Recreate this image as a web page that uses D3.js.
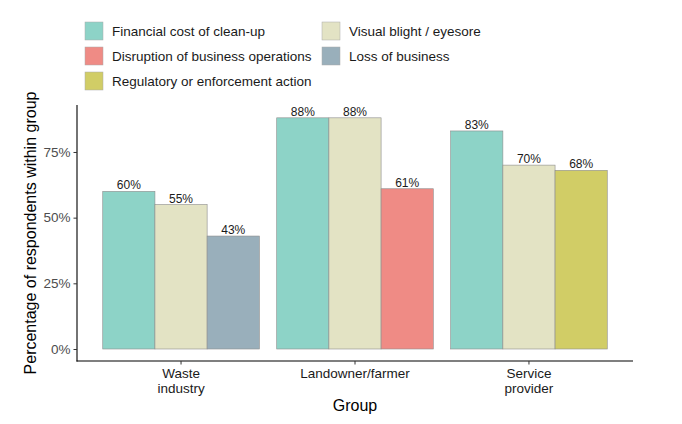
<!DOCTYPE html>
<html>
<head>
<meta charset="utf-8">
<script src="https://cdn.jsdelivr.net/npm/d3@7"></script>
<style>
  body { margin: 0; background: #fff; }
  svg { font-family: "Liberation Sans", Arial, sans-serif; }
</style>
</head>
<body>
<div id="chart"></div>
<script>
// data
const groups = ["Waste\nindustry", "Landowner/farmer", "Service\nprovider"]
const reasons = ["Financial cost of clean-up", "Visual blight / eyesore",
                 "Disruption of business operations", "Loss of business",
                 "Regulatory or enforcement action"]
const colors = ["#8dd3c7", "#e3e3c4", "#ef8b85", "#99afbb", "#d1cd66"]
const bar_reasons = [
    ["Financial cost of clean-up", "Visual blight / eyesore", "Loss of business"],
    ["Financial cost of clean-up", "Visual blight / eyesore", "Disruption of business operations"],
    ["Financial cost of clean-up", "Visual blight / eyesore", "Regulatory or enforcement action"]
]
const bar_values = [
    [60, 55, 43],
    [88, 88, 61],
    [83, 70, 68]
]
const y_ticks = [0, 25, 50, 75]

const width = 682, height = 424
const margin = {left: 77, right: 49, top: 105, bottom: 63}

const svg = d3.select("#chart").append("svg")
    .attr("width", width)
    .attr("height", height)

// build rows
const rows = []
groups.forEach((g, i) => {
    bar_reasons[i].forEach((r, j) => rows.push({group: g, reason: r, value: bar_values[i][j], idx: j}))
})

const x = d3.scaleBand()
    .domain(groups)
    .range([margin.left, width - margin.right])
    .paddingInner(0.1)
    .paddingOuter(0.148)
const xsub = d3.scaleBand()
    .domain([0, 1, 2])
    .range([0, x.bandwidth()])

const y = d3.scaleLinear()
    .domain([0, 100])
    .range([349, 349 - 262.7])

const color = d3.scaleOrdinal().domain(reasons).range(colors)

// bars
svg.selectAll("rect.bar")
    .data(rows)
    .join("rect")
        .attr("class", "bar")
        .attr("x", d => x(d.group) + xsub(d.idx))
        .attr("y", d => y(d.value))
        .attr("width", xsub.bandwidth())
        .attr("height", d => y(0) - y(d.value))
        .attr("fill", d => color(d.reason))
        .attr("stroke", "#8c8c8c")
        .attr("stroke-width", 0.6)

// value labels
svg.selectAll("text.lbl")
    .data(rows)
    .join("text")
        .attr("class", "lbl")
        .attr("x", d => x(d.group) + xsub(d.idx) + xsub.bandwidth() / 2)
        .attr("y", d => y(d.value) - 2)
        .attr("text-anchor", "middle")
        .style("font-size", "12px")
        .attr("fill", "#1a1a1a")
        .text(d => d.value + "%")

// y axis
const y_axis = svg.append("g")
    .attr("transform", `translate(${margin.left}, 0)`)
    .call(d3.axisLeft(y)
            .tickValues(y_ticks)
            .tickSize(3.5)
            .tickPadding(3)
            .tickFormat(d => d + "%"))
y_axis.attr("font-size", null).attr("font-family", null)
y_axis.select(".domain").attr("d", `M0,${margin.top}V${height - margin.bottom + 0.5}`)
    .attr("stroke", "#000").attr("stroke-width", 1.1)
y_axis.selectAll(".tick line").attr("stroke", "#333")
y_axis.selectAll(".tick text").style("font-size", "13.5px").attr("fill", "#4d4d4d")

// x axis
const x_axis = svg.append("g")
    .attr("transform", `translate(0, ${height - margin.bottom})`)
    .call(d3.axisBottom(x).tickSize(3.5).tickPadding(3))
x_axis.attr("font-size", null).attr("font-family", null)
x_axis.select(".domain").attr("d", `M${margin.left - 0.5},0H${width - margin.right}`)
    .attr("stroke", "#000").attr("stroke-width", 1.1)
x_axis.selectAll(".tick line").attr("stroke", "#333")
x_axis.selectAll(".tick text").remove()
x_axis.selectAll(".tick").each(function(d) {
    const t = d3.select(this).append("text")
        .attr("text-anchor", "middle")
        .attr("fill", "#1a1a1a")
        .style("font-size", "13.5px")
    d.split("\n").forEach((line, k) => {
        t.append("tspan").attr("x", 0).attr("y", 17 + k * 15).text(line)
    })
})

// axis titles
svg.append("text")
    .attr("transform", `translate(36, ${(margin.top + height - margin.bottom) / 2}) rotate(-90)`)
    .attr("text-anchor", "middle")
    .style("font-size", "16px")
    .attr("fill", "#000")
    .text("Percentage of respondents within group")

svg.append("text")
    .attr("x", (margin.left + width - margin.right) / 2)
    .attr("y", 411)
    .attr("text-anchor", "middle")
    .style("font-size", "16px")
    .attr("fill", "#000")
    .text("Group")

// legend
const legend_pos = [[85, 22], [85, 47], [85, 72], [322, 22], [322, 47]]
const legend_order = ["Financial cost of clean-up", "Disruption of business operations",
                      "Regulatory or enforcement action", "Visual blight / eyesore", "Loss of business"]
const leg = svg.selectAll("g.leg")
    .data(legend_order)
    .join("g")
        .attr("class", "leg")
        .attr("transform", (d, i) => `translate(${legend_pos[i][0]}, ${legend_pos[i][1]})`)
leg.append("rect")
    .attr("width", 18)
    .attr("height", 18)
    .attr("fill", d => color(d))
    .attr("stroke", "#aaa")
    .attr("stroke-width", 0.5)
leg.append("text")
    .attr("x", 27)
    .attr("y", 14)
    .style("font-size", "13.5px")
    .attr("fill", "#1a1a1a")
    .text(d => d)
</script>
</body>
</html>
